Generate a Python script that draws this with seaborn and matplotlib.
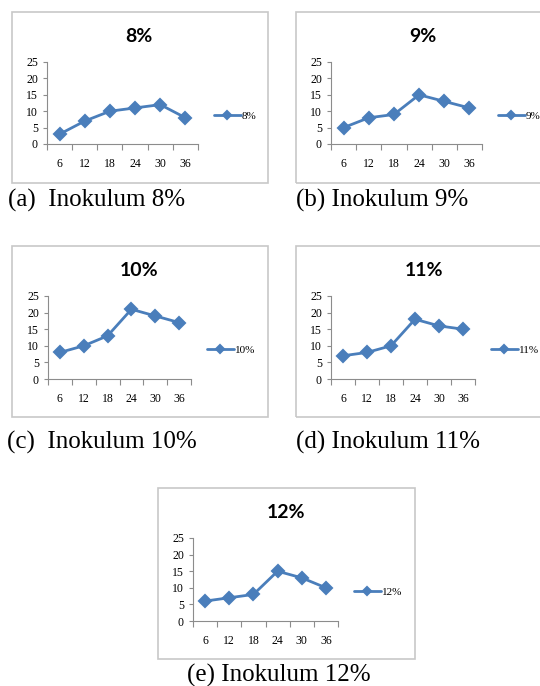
import numpy as np
import pandas as pd
import matplotlib
matplotlib.use("Agg")
import matplotlib.pyplot as plt
from matplotlib.patches import Rectangle
import seaborn as sns

# data
hours = ["6", "12", "18", "24", "30", "36"]
inok_8 = [3, 7, 10, 11, 12, 8]
inok_9 = [5, 8, 9, 15, 13, 11]
inok_10 = [8, 10, 13, 21, 19, 17]
inok_11 = [7, 8, 10, 18, 16, 15]
inok_12 = [6, 7, 8, 15, 13, 10]
series_names = ["8%", "9%", "10%", "11%", "12%"]
captions = ["(a)  Inokulum 8%", "(b) Inokulum 9%", "(c)  Inokulum 10%",
            "(d) Inokulum 11%", "(e) Inokulum 12%"]
y_ticks = [0, 5, 10, 15, 20, 25]

W, H = 540, 686
LINE_COLOR = "#4A7EBB"
SPINE_COLOR = "#8C8C8C"
FRAME_COLOR = "#C8C8C8"

sns.set_style("white")
plt.rcParams["font.family"] = ["Liberation Serif", "DejaVu Serif"]
plt.rcParams["text.color"] = "black"
plt.rcParams["xtick.color"] = "black"
plt.rcParams["ytick.color"] = "black"

fig = plt.figure(figsize=(W / 100, H / 100), dpi=100)


def px_rect(x0, y0, x1, y1):
    # pixel box (top-left origin) -> figure fraction rect
    return [x0 / W, 1 - y1 / H, (x1 - x0) / W, (y1 - y0) / H]


def px_pt(x, y):
    return x / W, 1 - y / H


# layout (pixel coords): frame, axes, title centre, legend anchor, caption anchor
panels = [
    dict(vals=inok_8, frame=(12, 12, 268, 183), axes=(47, 62, 198, 144),
         title=(139, 36), legend=(214, 116), caption=(8, 200)),
    dict(vals=inok_9, frame=(296, 12, 545, 183), axes=(331, 62, 482, 144),
         title=(423, 36), legend=(498, 116), caption=(296, 200)),
    dict(vals=inok_10, frame=(12, 246, 268, 417), axes=(48, 296, 191, 379),
         title=(139, 270), legend=(207, 350), caption=(7, 442)),
    dict(vals=inok_11, frame=(296, 246, 545, 417), axes=(331, 296, 475, 379),
         title=(424, 270), legend=(491, 350), caption=(296, 442)),
    dict(vals=inok_12, frame=(158, 488, 415, 659), axes=(193, 538, 338, 621),
         title=(286, 513), legend=(354, 592), caption=(187, 675)),
]

for p, name, cap in zip(panels, series_names, captions):
    fx0, fy0, fx1, fy1 = p["frame"]
    fig.patches.append(Rectangle((fx0 / W, 1 - fy1 / H), (fx1 - fx0) / W,
                                 (fy1 - fy0) / H, transform=fig.transFigure,
                                 fill=False, edgecolor=FRAME_COLOR, lw=1.2))

    ax = fig.add_axes(px_rect(*p["axes"]))
    df = pd.DataFrame({"jam": hours, "nilai": p["vals"]})
    sns.pointplot(data=df, x="jam", y="nilai", order=hours, ax=ax,
                  color=LINE_COLOR, markers="D", markersize=6, linewidth=2,
                  errorbar=None, label=name)
    ax.set_xlim(-0.5, len(hours) - 0.5)
    ax.set_ylim(0, 25)
    ax.set_xlabel("")
    ax.set_ylabel("")

    # category boundaries get the tick marks, labels sit in between
    ax.set_xticks(np.arange(len(hours) + 1) - 0.5)
    ax.set_xticklabels([])
    ax.set_xticks(np.arange(len(hours)), minor=True)
    ax.set_xticklabels(hours, minor=True)
    ax.tick_params(axis="x", which="major", length=4, width=0.8,
                   color=SPINE_COLOR, direction="out", bottom=True)
    ax.tick_params(axis="x", which="minor", length=0, pad=10, labelsize=8.5)
    ax.set_yticks(y_ticks)
    ax.tick_params(axis="y", length=3, width=0.8, color=SPINE_COLOR,
                   direction="out", left=True, pad=3.5, labelsize=8.5)

    for side in ["top", "right"]:
        ax.spines[side].set_visible(False)
    for side in ["left", "bottom"]:
        ax.spines[side].set_color(SPINE_COLOR)
        ax.spines[side].set_linewidth(0.8)
    ax.patch.set_alpha(0)

    lx, ly = px_pt(*p["legend"])
    ax.legend(loc="center left", bbox_to_anchor=(lx, ly),
              bbox_transform=fig.transFigure, frameon=False, fontsize=8,
              handlelength=2.4, handletextpad=0.1, borderpad=0,
              borderaxespad=0, markerscale=0.75)

    tx, ty = px_pt(*p["title"])
    fig.text(tx, ty, name, ha="center", va="center", fontsize=14,
             fontweight="bold", family=["Lato", "DejaVu Sans"])

    cx, cy = px_pt(*p["caption"])
    fig.text(cx, cy, cap, ha="left", va="center", fontsize=18,
             family=["Liberation Serif", "DejaVu Serif"])

fig.savefig("out.png", dpi=100)
